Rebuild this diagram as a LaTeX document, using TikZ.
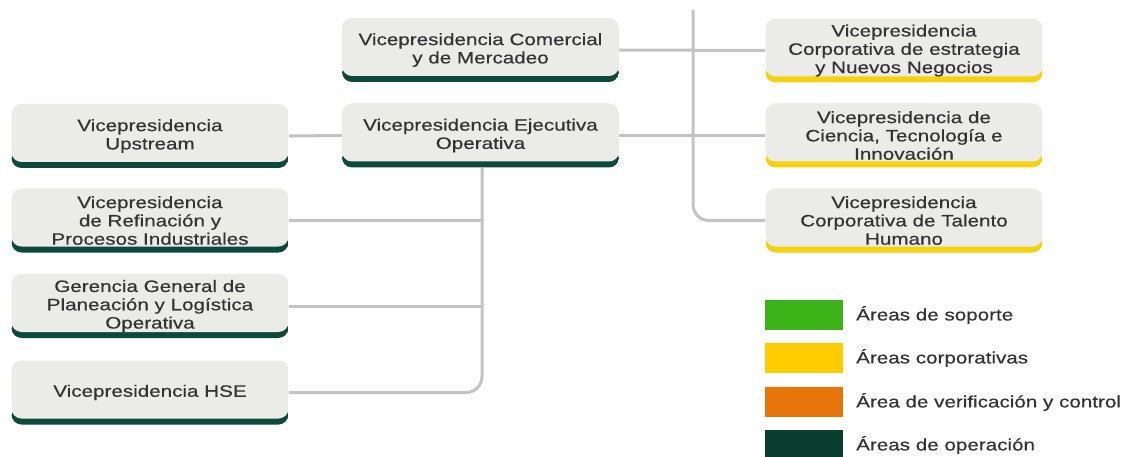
\documentclass[tikz,border=0pt]{standalone}
\usepackage{fontspec}
\setmainfont{Liberation Sans}[FakeStretch=1.25,FakeBold=0.5]
\usetikzlibrary{backgrounds}
\definecolor{boxgrey}{HTML}{EBEBE8}
\definecolor{opgreen}{HTML}{0D4A3B}
\definecolor{corpyellow}{HTML}{F5D10F}
\definecolor{linegrey}{HTML}{C3C3C3}
\definecolor{txt}{HTML}{333333}
\definecolor{legGreen}{HTML}{3CB419}
\definecolor{legYellow}{HTML}{FFCC00}
\definecolor{legOrange}{HTML}{E8740C}
\definecolor{legDark}{HTML}{0B3D2F}
\newcommand{\boxfont}{\fontsize{16.5}{18.3}\selectfont}
\tikzset{
  vbox/.style={minimum width=277pt, minimum height=64pt, inner sep=0pt,
    align=center, font=\boxfont, text=txt, rounded corners=10pt, fill=white,
    path picture={
      \fill[#1] (path picture bounding box.south west) rectangle ([yshift=18pt]path picture bounding box.south east);
      \fill[boxgrey, rounded corners=10pt] ([yshift=6pt]path picture bounding box.south west) rectangle (path picture bounding box.north east);
    }},
  opbox/.style={vbox=opgreen},
  corpbox/.style={vbox=corpyellow},
  conn/.style={draw=linegrey, line width=3pt},
  legsq/.style={minimum width=78pt, minimum height=30pt, inner sep=0pt},
  leglab/.style={anchor=west, font=\boxfont, text=txt, inner sep=0pt}
}
\begin{document}
\begin{tikzpicture}[x=1pt,y=-1pt]
\useasboundingbox (0,0) rectangle (1124,457);
% boxes
\node[opbox] (com) at (480.5,50) {Vicepresidencia Comercial\\y de Mercadeo};
\node[opbox] (eje) at (480.5,135.5) {Vicepresidencia Ejecutiva\\Operativa};
\node[opbox] (ups) at (150,136) {Vicepresidencia\\Upstream};
\node[opbox] (ref) at (150,220.5) {Vicepresidencia\\de Refinación y\\Procesos Industriales};
\node[opbox] (ger) at (150,306) {Gerencia General de\\Planeación y Logística\\Operativa};
\node[opbox] (hse) at (150,392.5) {Vicepresidencia HSE};
\node[corpbox] (est) at (904,50.5) {Vicepresidencia\\Corporativa de estrategia\\y Nuevos Negocios};
\node[corpbox] (cie) at (904,135.5) {Vicepresidencia de\\Ciencia, Tecnología e\\Innovación};
\node[corpbox] (tal) at (904,220.5) {Vicepresidencia\\Corporativa de Talento\\Humano};
\coordinate (top) at (693,10);
\coordinate (vx) at (482,0);
% connectors
\begin{pgfonlayer}{background}
\draw[conn, rounded corners=16pt] (top) |- (tal.west);
\draw[conn] (com.east) -- (est.west);
\draw[conn] (eje.east) -- (cie.west);
\draw[conn] (ups.east) -- (eje.west);
\draw[conn, rounded corners=16pt] (eje.south -| vx) |- (hse.east);
\draw[conn] (ref.east) -- (ref.east -| vx);
\draw[conn] (ger.east) -- (ger.east -| vx);
\end{pgfonlayer}
% legend
\node[legsq, fill=legGreen] (l1) at (804,315) {};
\node[legsq, fill=legYellow] (l2) at (804,358) {};
\node[legsq, fill=legOrange] (l3) at (804,402) {};
\node[legsq, fill=legDark] (l4) at (804,445) {};
\node[leglab] (t1) at (856,315) {Áreas de soporte};
\node[leglab] (t2) at (856,358) {Áreas corporativas};
\node[leglab] (t3) at (856,402) {Área de verificación y control};
\node[leglab] (t4) at (856,445) {Áreas de operación};
\end{tikzpicture}
\end{document}
